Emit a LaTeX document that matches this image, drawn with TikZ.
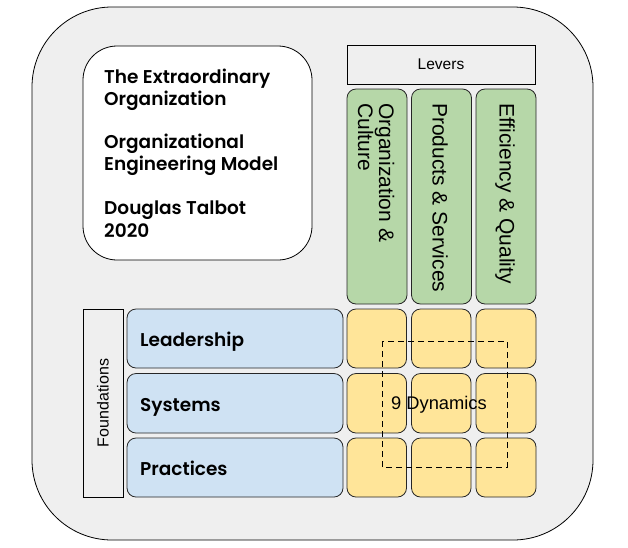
\documentclass[tikz,border=0pt]{standalone}
\usepackage{fontspec}
\setmainfont{Liberation Sans}
\newfontfamily\mont{Poppins SemiBold}
\definecolor{bg}{HTML}{EFEFEF}
\definecolor{blueb}{HTML}{CFE2F3}
\definecolor{greenb}{HTML}{B6D7A8}
\definecolor{yellowb}{HTML}{FFE599}
\begin{document}
\begin{tikzpicture}[x=1pt,y=-1pt,
  cell/.style={draw=black!85,line width=0.8pt,rounded corners=9pt},
  ycell/.style={cell,fill=yellowb},
  bcell/.style={cell,fill=blueb},
  gcell/.style={cell,fill=greenb},
  lab/.style={font=\fontsize{21}{21}\selectfont,inner sep=0pt},
  mlab/.style={font=\mont\fontsize{18.5}{22}\selectfont,inner sep=0pt,anchor=base west}]
\useasboundingbox (0,0) rectangle (628,547);
\draw[line width=0.8pt,fill=bg,rounded corners=80pt] (32,7) rectangle (593,540);
% title box
\draw[line width=0.8pt,fill=white,rounded corners=34pt] (83,46) rectangle (312,260);
\node[mlab] (t1) at (104,83) {The Extraordinary};
\node[mlab] (t2) at (104,105) {Organization};
\node[mlab] (t3) at (104,148) {Organizational};
\node[mlab] (t4) at (104,170) {Engineering Model};
\node[mlab] (t5) at (104,214) {Douglas Talbot};
\node[mlab] (t6) at (104,237) {2020};
% levers
\draw[line width=0.8pt,fill=bg] (347,45) rectangle (535,84);
\node[font=\fontsize{15.5}{17}\selectfont] (lev) at (441,64.5) {Levers};
\draw[gcell] (347,89) rectangle (407,304);
\draw[gcell] (411.5,89) rectangle (471.5,304);
\draw[gcell] (476,89) rectangle (536,304);
\node[lab,rotate=-90,anchor=west,align=left] (g1) at (376,103) {Organization \&\\Culture};
\node[lab,rotate=-90,anchor=west] (g2) at (440,103) {Products \& Services};
\node[lab,rotate=-90,anchor=west] (g3) at (505,103) {Efficiency \& Quality};
% foundations
\draw[line width=0.8pt,fill=bg] (83,309) rectangle (123,497);
\node[font=\fontsize{16}{18}\selectfont,rotate=90] (fd) at (103,403) {Foundations};
\draw[bcell] (127,309) rectangle (343,368);
\draw[bcell] (127,373.5) rectangle (343,433);
\draw[bcell] (127,438) rectangle (343,497);
\node[mlab] (b1) at (140,346) {Leadership};
\node[mlab] (b2) at (140,411) {Systems};
\node[mlab] (b3) at (140,475) {Practices};
% yellow grid
\foreach \xa/\xb in {347/406.5,411.5/471,476/536}{
  \draw[ycell] (\xa,309) rectangle (\xb,368);
  \draw[ycell] (\xa,373.5) rectangle (\xb,433);
  \draw[ycell] (\xa,438) rectangle (\xb,497);
}
\draw[dashed,line width=0.8pt,dash pattern=on 6pt off 4pt] (382,341) rectangle (507,467);
\node[font=\fontsize{18.3}{20}\selectfont,inner sep=0pt] (dyn) at (439,405) {9 Dynamics};
\end{tikzpicture}
\end{document}
